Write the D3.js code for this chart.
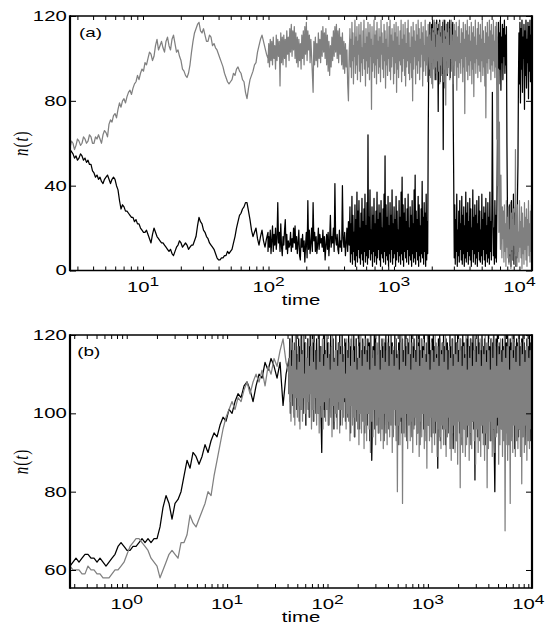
<!DOCTYPE html>
<html>
<head>
<meta charset="utf-8">
<script src="https://cdn.jsdelivr.net/npm/d3@7"></script>
<style>
  body { margin: 0; background: #fff; }
  svg { display: block; }
</style>
</head>
<body>
<svg id="chart" width="549" height="626"></svg>
<script>
// ---------------- data ----------------
// Each series is stored as consecutive sampling segments; segment k covers
// log10(time) from spans[k] to spans[k+1], samples evenly spaced in log time.

// Panel (a)
const spansA = [0.418, 1.996, 2.649, 4.1];
const yTicksA = [0, 40, 80, 120];
const xExpA = [1, 2, 3, 4];

const grayA = [
  [58,61,60,57,59,62,61,59,60,63,62,60,61,64,63,60,60,63,62,64,
   62,60,64,66,65,63,69,71,70,73,74,72,76,79,77,80,81,79,82,84,
   85,83,86,88,89,92,90,93,95,94,98,97,100,103,102,99,101,106,109,104,
   106,108,105,103,108,110,106,104,109,111,107,103,104,101,99,95,94,92,91,93,
   97,103,108,112,114,116,117,113,112,114,111,108,108,111,110,106,107,105,104,102,
   100,98,96,93,91,89,88,89,90,93,92,95,96,94,93,90,89,84,81,86,
   90,92,94,97,98,103,106,109,111,108,105,102,100],
  [98,107,96,109,99,108,97,110,100,106,
   95,111,99,109,101,108,87,112,98,110,
   97,111,100,109,96,113,102,110,99,114,
   103,116,101,113,104,115,100,112,98,110,
   96,109,99,107,95,111,100,113,97,115,
   102,117,99,113,104,111,98,109,101,93,
   84,108,97,110,99,107,96,112,100,109,
   98,113,101,115,103,112,100,114,97,111,
   94,108,92,106,96,110,99,113,101,115,
   103,116,100,113,98,114,102,110,97,112,
   95,108,93,107,96,104,88,80,103,112],
  [114,96,109,91,117,99,112,88,106,101,118,93,110,97,115,90,108,102,116,94,
   111,89,117,98,105,92,113,100,118,95,107,87,114,99,110,93,117,96,112,90,
   116,101,109,76,115,94,106,98,118,91,111,97,113,88,117,100,108,93,114,96,
   110,89,118,102,112,95,107,91,116,99,113,86,109,97,117,92,105,100,115,94,
   118,90,111,96,114,101,108,88,116,93,112,98,117,84,110,95,115,91,106,99,
   113,97,118,89,109,94,116,100,111,92,117,87,107,96,114,99,118,93,112,90,
   105,98,115,91,110,80,117,95,113,101,108,88,116,97,111,93,118,99,114,90,
   109,96,117,102,112,87,115,94,106,99,118,92,113,97,110,89,116,101,111,95,
   117,91,108,98,114,86,112,100,118,93,105,96,116,90,111,99,113,94,117,88,
   110,97,115,92,107,101,118,89,113,95,109,78,116,99,112,93,117,96,106,90,
   114,100,118,94,111,88,108,97,116,92,113,99,117,85,110,96,115,91,118,98,
   107,93,114,100,112,89,117,96,109,74,116,101,113,94,118,90,111,97,115,92,
   108,99,117,88,112,95,115,82,110,98,118,93,106,100,114,91,117,97,111,94,
   116,89,109,99,118,92,113,96,107,87,115,72,112,98,117,93,110,100,118,95,
   113,90,116,97,111,94,118,99,108,91,115,96,117,
   62,110,40,95,18,70,28,10,45,22,6,30,15,
   28,4,31,9,22,2,33,11,25,6,30,3,19,8,32,1,27,10,24,5,
   29,12,21,3,57,7,26,2,31,9,18,4,33,11,23,6,30,1,27,8,
   20,3,32,10,25,5,29,2,24,12,33,7,22,4,28,9,31,1]
];

const blackA = [
  [57,56,55,53,54,52,53,55,54,52,53,51,52,50,50,47,46,44,45,43,
   44,42,41,43,44,45,43,41,43,44,43,40,38,33,29,31,30,28,28,27,
   26,25,25,23,24,22,22,20,19,18,18,19,17,15,13,17,20,18,16,15,
   14,13,13,12,11,10,9,10,8,7,9,11,12,14,13,11,12,13,12,10,
   11,12,12,14,16,21,25,23,22,19,18,16,15,13,12,11,10,8,6,5,
   5,6,6,7,7,9,8,9,10,13,16,20,23,26,27,29,30,32,32,28,
   24,19,16,18,20,15,12,16,19,14,11,15,18],
  [9,16,11,19,8,14,21,9,17,12,20,10,15,32,13,18,9,22,11,7,
   16,12,19,24,10,17,8,14,11,12,18,9,15,11,20,13,21,10,16,8,
   13,19,7,5,15,11,17,9,14,4,12,18,6,33,10,19,8,13,20,9,
   32,14,18,9,16,8,12,20,10,17,13,15,11,19,9,16,5,12,17,10,
   18,7,14,26,11,16,13,20,9,41,15,12,17,10,8,19,11,14,9,40,
   15,11,18,7,13,20,9,23,12,29],
  [30,4,22,8,35,3,26,9,18,5,31,2,24,7,37,4,28,10,33,6,
   20,3,27,8,34,5,23,2,29,9,36,4,21,7,32,3,64,6,25,10,
   38,5,19,8,30,2,26,9,34,4,22,7,28,3,37,6,24,10,31,5,
   27,2,33,8,20,6,29,4,36,9,54,3,31,7,25,5,35,2,21,8,
   32,4,26,10,38,3,22,6,30,8,24,2,35,5,28,9,19,4,33,7,
   25,3,37,8,44,5,31,2,27,9,34,6,23,4,29,10,36,3,20,7,
   30,5,26,2,33,8,22,4,38,6,45,3,28,9,24,5,35,2,31,7,
   21,4,29,8,42,6,25,3,32,9,27,2,36,5,23,8,
   60,95,
   104,117,92,112,98,116,88,118,100,113,95,117,90,111,102,118,94,114,75,116,
   97,118,89,112,101,115,93,117,57,113,99,118,86,110,103,116,92,117,96,112,
   100,118,91,114,98,116,95,117,
   70,40,
   6,31,3,24,9,36,2,19,7,28,4,33,10,22,5,35,3,26,8,30,
   2,21,6,37,4,27,9,32,3,23,7,34,5,29,2,20,10,38,4,25,
   8,31,3,26,6,33,2,22,9,35,5,28,4,19,7,36,3,24,10,30,
   5,27,2,34,8,21,4,32,6,25,3,37,9,23,5,29,84,31,7,20,
   3,33,6,26,4,30,
   60,100,117,88,112,95,118,85,110,98,116,90,114,101,118,93,111,97,115,60,30,
   12,28,4,31,7,24,2,33,9,20,5,36,3,27,8,30,2,22,6,35,
   50,90,
   112,88,117,79,114,95,118,84,110,100,116,76,113,92,118,86,109,98,117,81,
   115,94,118,89,111,99,117]
];

// Panel (b)
const spansB = [-0.565, 1.617, 4.037];
const yTicksB = [60, 80, 100, 120];
const xExpB = [0, 1, 2, 3, 4];

const blackB = [
  [61, 62, 63, 62, 63, 64, 64, 63, 63, 62,
   63, 62, 61, 62, 63, 64, 66, 67, 66, 65,
   65, 66, 66, 67, 68, 67, 68, 67, 68, 68,
   71, 76, 79, 77, 73, 77, 78, 80, 84, 88,
   86, 90, 89, 87,
   89, 92, 90, 93, 95, 94, 97, 99, 98, 101,
   100, 103, 105, 104, 107, 108, 106, 103, 107, 110,
   109, 113, 111, 114, 112, 109, 113, 102, 110, 114],
  [105,119,100,116,108,120,102,114,99,118,106,120,101,115,104,119,98,117,107,120,
   103,116,100,120,109,118,97,114,105,119,101,117,99,120,106,115,102,118,98,120,
   104,116,100,119,107,114,100,120,103,117,98,90,105,115,101,120,99,116,106,119,
   102,118,97,115,108,120,100,117,104,119,96,114,106,120,99,116,103,118,101,120,
   97,117,105,120,100,115,103,119,98,118,106,116,99,120,102,117,95,119,104,115,
   100,120,94,117,106,119,98,114,102,120,96,118,103,116,99,119,101,117,95,120,
   104,116,97,119,100,118,93,120,106,88,98,117,101,120,96,119,103,115,99,118,
   95,120,102,116,98,119,105,117,93,118,100,120,97,115,104,119,96,117,101,120,
   99,118,94,116,103,120,97,119,101,115,92,118,105,120,98,117,95,119,102,116,
   96,120,100,117,93,119,104,118,98,115,102,120,94,117,99,119,97,116,103,120,
   95,118,101,120,92,116,99,119,104,117,96,120,98,115,93,118,102,119,97,120,
   100,116,94,119,98,120,103,117,95,118,101,115,86,119,97,120,93,116,104,118,
   96,120,99,117,92,119,102,118,95,116,100,120,94,117,98,119,91,115,103,120,
   97,118,93,120,100,116,95,119,98,117,92,120,101,118,96,115,99,119,94,120,
   100,117,95,119,92,118,98,120,96,116,83,119,101,117,94,120,97,118,93,116,
   99,120,95,117,101,119,92,118,97,116,94,120,100,117,93,119,98,118,96,120,
   92,80,99,119,95,120,97,117,93,118,101,116,96,119,94,117,99,120,92,118,
   97,120,94,117,100,119,93,118,96,116,98,120,91,117,95,119,99,118,94,120,
   96,117,93,119,98,120,95,118,92,116,100,119,94,117,97,120,93,118,96,119]
];

const grayB = [
  [61, 60, 60, 60, 59, 59, 61, 60, 60, 59,
   59, 58, 58, 58, 59, 60, 60, 61, 62, 64,
   66, 67, 68, 68, 67, 66, 65, 63, 62, 61,
   58, 60, 62, 64, 65, 64, 63, 67, 67, 69,
   74, 72, 71, 73,
   75, 77, 80, 79, 84, 88, 92, 96, 99, 101,
   103, 101, 104, 103, 106, 108, 105, 108, 110, 108,
   111, 107, 112, 110, 114, 112, 116, 119, 113, 110],
  [114,103,119,98,112,105,118,100,116,97,120,104,111,99,117,102,113,96,119,101,
   115,98,120,104,110,100,118,97,114,103,119,99,112,105,117,96,120,101,113,98,
   118,104,111,97,116,100,120,95,113,102,117,99,119,96,112,103,115,98,120,101,
   114,97,118,104,111,99,117,94,120,102,113,98,116,100,119,96,112,103,118,95,
   115,101,120,97,113,99,117,104,110,96,119,100,114,98,118,93,112,102,120,97,
   116,99,113,94,119,101,111,96,117,92,114,100,120,95,112,98,118,91,115,97,
   119,93,113,100,117,96,111,90,120,98,114,94,116,101,112,92,118,97,115,95,
   120,99,111,93,117,96,114,91,119,100,113,95,116,92,118,98,112,94,120,97,
   115,90,117,96,112,101,119,93,114,80,116,97,111,92,118,99,120,77,113,95,
   117,94,112,100,119,91,115,97,120,93,111,98,118,90,114,96,116,99,113,92,
   120,95,117,89,112,98,119,94,114,100,116,91,118,96,113,86,120,97,115,93,
   111,99,118,90,116,95,113,92,120,98,114,89,117,96,112,94,119,91,115,97,
   118,92,113,96,120,89,116,94,111,99,117,91,114,88,119,95,112,97,120,90,
   115,93,118,87,113,98,116,81,119,94,112,90,117,96,114,89,120,92,111,97,
   117,88,114,95,119,91,112,98,116,93,120,87,113,96,118,90,115,94,119,89,
   112,97,117,92,115,88,120,95,113,81,118,91,116,98,111,93,119,89,114,96,
   120,90,117,94,112,99,118,87,115,92,119,96,113,89,116,93,120,70,114,95,
   117,88,119,92,111,77,116,94,120,90,114,97,118,89,113,93,117,91,120,96,
   112,89,118,82,115,94,119,90,113,97,117,88,120,93,114,91,116,96,119,92]
];

// ---------------- drawing ----------------
const svg = d3.select("#chart");
const SX = 1.45;                 // horizontal text stretch
const SANS = "'Liberation Sans', Arial, Helvetica, sans-serif";
const SERIF = "'Liberation Serif', 'Times New Roman', serif";
const GRAY = "#808080";

function samples(segs, spans) {
  const pts = [];
  segs.forEach((vals, k) => {
    const lo = spans[k], hi = spans[k + 1], n = vals.length;
    vals.forEach((v, i) => pts.push([Math.pow(10, lo + (hi - lo) * i / (n - 1)), v]));
  });
  return pts;
}

function drawPanel(o) {
  const g = svg.append("g");
  const x = d3.scaleLog()
    .domain([Math.pow(10, o.spans[0]), Math.pow(10, o.spans[o.spans.length - 1])])
    .range([o.left, o.right]);
  const y = d3.scaleLinear().domain(o.yDomain).range([o.bottom, o.top]);

  const clipId = "clip-" + o.name;
  svg.append("clipPath").attr("id", clipId).append("rect")
    .attr("x", o.left).attr("y", o.top)
    .attr("width", o.right - o.left).attr("height", o.bottom - o.top);

  const line = d3.line().x(d => x(d[0])).y(d => y(d[1]));
  const plot = g.append("g").attr("clip-path", `url(#${clipId})`);
  o.series.forEach(s => {
    plot.append("path")
      .datum(samples(s.values, o.spans))
      .attr("d", line)
      .attr("fill", "none")
      .attr("stroke", s.color)
      .attr("stroke-width", 1.25)
      .attr("stroke-linejoin", "round");
  });

  // log ticks: decades plus 2..9 minors
  const [d0, d1] = x.domain();
  const xt = [];
  for (let k = Math.floor(Math.log10(d0)); k <= Math.ceil(Math.log10(d1)); k++) {
    for (let m = 1; m <= 9; m++) {
      const v = m * Math.pow(10, k);
      if (v >= d0 && v <= d1) xt.push(v);
    }
  }
  const styleAxis = sel => {
    sel.select(".domain").remove();
    sel.selectAll(".tick line").attr("stroke", "#000").attr("stroke-width", 1);
  };
  g.append("g").attr("transform", `translate(0,${o.bottom})`)
    .call(d3.axisBottom(x).tickValues(xt).tickSize(-4).tickSizeOuter(0).tickFormat(""))
    .call(styleAxis);
  g.append("g").attr("transform", `translate(0,${o.top})`)
    .call(d3.axisTop(x).tickValues(xt).tickSize(-4).tickSizeOuter(0).tickFormat(""))
    .call(styleAxis);

  // y axes
  const yl = g.append("g").attr("transform", `translate(${o.left},0)`)
    .call(d3.axisLeft(y).tickValues(o.yTicks).tickSize(-6).tickSizeOuter(0).tickPadding(3.3))
    .call(styleAxis);
  yl.selectAll(".tick text")
    .attr("font-family", SANS).attr("font-size", 14).attr("fill", "#000")
    .attr("x", -3.3 / SX)
    .attr("transform", `scale(${SX},1)`);
  g.append("g").attr("transform", `translate(${o.right},0)`)
    .call(d3.axisRight(y).tickValues(o.yTicks).tickSize(-6).tickSizeOuter(0).tickFormat(""))
    .call(styleAxis);

  // decade labels 10^k
  o.xExp.forEach(k => {
    const t = g.append("text")
      .attr("transform", `translate(${x(Math.pow(10, k))},${o.bottom + 21}) scale(${SX},1)`)
      .attr("text-anchor", "middle")
      .attr("font-family", SANS).attr("font-size", 14).attr("fill", "#000");
    t.append("tspan").text("10");
    t.append("tspan").attr("dy", -5.5).attr("font-size", 12).text(String(k));
  });

  // frame
  const fr = g.append("g").attr("stroke", "#000").attr("fill", "none");
  fr.append("line").attr("x1", o.left).attr("x2", o.left).attr("y1", o.top - 0.8).attr("y2", o.bottom + 0.8).attr("stroke-width", 2.2);
  fr.append("line").attr("x1", o.right).attr("x2", o.right).attr("y1", o.top - 0.8).attr("y2", o.bottom + 0.8).attr("stroke-width", 2.2);
  fr.append("line").attr("x1", o.left).attr("x2", o.right).attr("y1", o.top).attr("y2", o.top).attr("stroke-width", 1.6);
  fr.append("line").attr("x1", o.left).attr("x2", o.right).attr("y1", o.bottom).attr("y2", o.bottom).attr("stroke-width", 1.6);

  // axis titles
  g.append("text")
    .attr("transform", `translate(${(o.left + o.right) / 2},${o.bottom + 34}) scale(${SX},1)`)
    .attr("text-anchor", "middle")
    .attr("font-family", SANS).attr("font-size", 14).attr("fill", "#000")
    .text("time");

  const yt = g.append("text")
    .attr("transform", `translate(28,${(o.top + o.bottom) / 2}) scale(${SX},1) rotate(-90)`)
    .attr("text-anchor", "middle")
    .attr("font-family", SERIF).attr("font-size", 15).attr("fill", "#000")
    .attr("letter-spacing", 1);
  yt.append("tspan").attr("font-style", "italic").text("n");
  yt.append("tspan").text("(");
  yt.append("tspan").attr("font-style", "italic").text("t");
  yt.append("tspan").text(")");

  g.append("text")
    .attr("transform", `translate(${o.labelX},${o.labelY}) scale(${SX},1)`)
    .attr("font-family", SANS).attr("font-size", 13).attr("fill", "#000")
    .text(o.label);
}

drawPanel({
  name: "a", left: 70, right: 532, top: 16, bottom: 270.5,
  spans: spansA, yDomain: [0, 120], yTicks: yTicksA, xExp: xExpA,
  series: [{ values: blackA, color: "#000" }, { values: grayA, color: GRAY }],
  label: "(a)", labelX: 79, labelY: 36.8
});

drawPanel({
  name: "b", left: 70, right: 532, top: 335, bottom: 588,
  spans: spansB, yDomain: [55.4, 120], yTicks: yTicksB, xExp: xExpB,
  series: [{ values: blackB, color: "#000" }, { values: grayB, color: GRAY }],
  label: "(b)", labelX: 77.3, labelY: 356.2
});
</script>
</body>
</html>
